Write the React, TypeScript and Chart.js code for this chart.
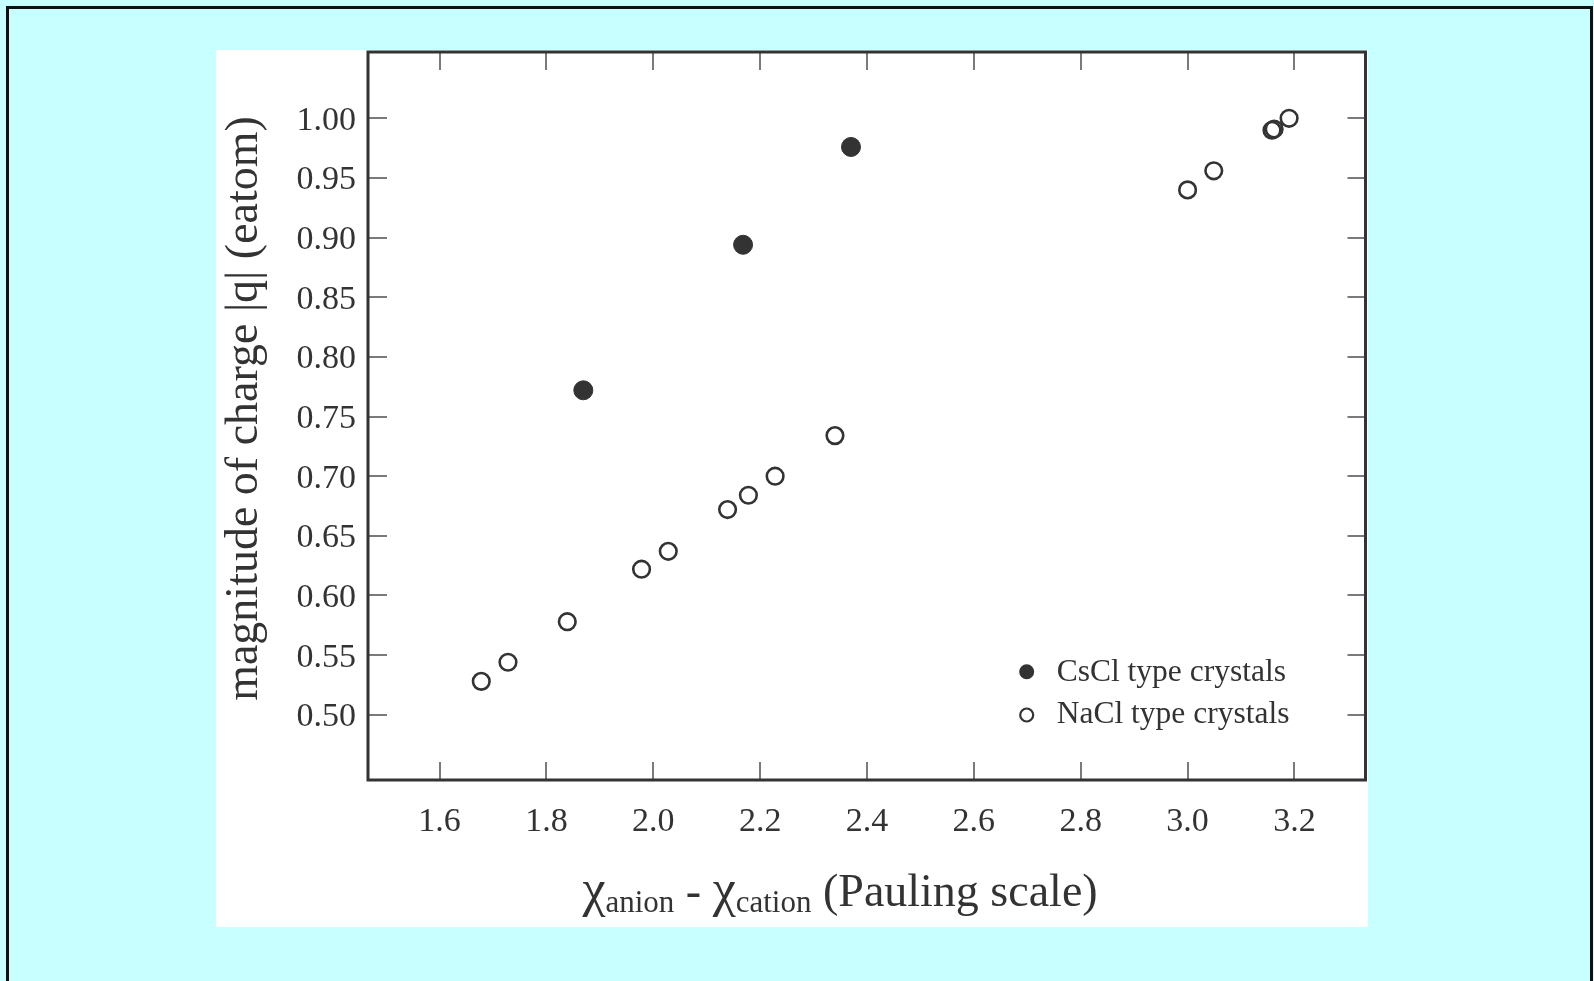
import { useEffect, useRef } from "react";
import { Chart, registerables } from "chart.js";

Chart.register(...registerables);

// Electronegativity difference (Pauling) and magnitude of atomic charge
const cesiumChlorideX = [1.869, 2.168, 2.37];
const cesiumChlorideY = [0.772, 0.894, 0.976];
const sodiumChlorideX = [1.678, 1.728, 1.839, 1.978, 2.028, 2.139, 2.178, 2.228, 2.34, 3.0, 3.049, 3.158, 3.162, 3.19];
const sodiumChlorideY = [0.528, 0.544, 0.578, 0.622, 0.637, 0.672, 0.684, 0.7, 0.734, 0.94, 0.956, 0.99, 0.991, 1.0];

const seriesLabels = ["CsCl type crystals", "NaCl type crystals"];
const xTicks = [1.6, 1.8, 2.0, 2.2, 2.4, 2.6, 2.8, 3.0, 3.2];
const yTicks = [0.5, 0.55, 0.6, 0.65, 0.7, 0.75, 0.8, 0.85, 0.9, 0.95, 1.0];
const yTitle = "magnitude of charge |q| (eatom)";
const xTitleParts: { text: string; sub: boolean }[] = [
  { text: "\u03c7", sub: false },
  { text: "anion", sub: true },
  { text: " - ", sub: false },
  { text: "\u03c7", sub: false },
  { text: "cation", sub: true },
  { text: " (Pauling scale)", sub: false },
];

const SERIF = '"Liberation Serif", "Times New Roman", serif';
const INK = "#333333";

const framePlugin = {
  id: "frame",
  afterDraw(chart: any) {
    const { ctx, chartArea } = chart;
    const { left, top, right, bottom } = chartArea;
    const xs = chart.scales.x;
    const ys = chart.scales.y;
    ctx.save();

    // inward tick marks on all four sides
    ctx.strokeStyle = "#7a7a7a";
    ctx.lineWidth = 2;
    ctx.beginPath();
    for (const v of xTicks) {
      const px = Math.round(xs.getPixelForValue(v));
      ctx.moveTo(px, bottom);
      ctx.lineTo(px, bottom - 18);
      ctx.moveTo(px, top);
      ctx.lineTo(px, top + 18);
    }
    for (const v of yTicks) {
      const py = Math.round(ys.getPixelForValue(v));
      ctx.moveTo(left, py);
      ctx.lineTo(left + 19, py);
      ctx.moveTo(right, py);
      ctx.lineTo(right - 18, py);
    }
    ctx.stroke();

    // plot box
    ctx.strokeStyle = INK;
    ctx.lineWidth = 3;
    ctx.strokeRect(left, top, right - left, bottom - top);

    // tick labels
    ctx.fillStyle = INK;
    ctx.font = `34px ${SERIF}`;
    ctx.textBaseline = "alphabetic";
    ctx.textAlign = "center";
    for (const v of xTicks) {
      ctx.fillText(v.toFixed(1), xs.getPixelForValue(v), bottom + 51);
    }
    ctx.textAlign = "right";
    for (const v of yTicks) {
      ctx.fillText(v.toFixed(2), left - 12, ys.getPixelForValue(v) + 11.5);
    }

    // y-axis title
    ctx.save();
    ctx.translate(left - 111, top + 356.5);
    ctx.rotate(-Math.PI / 2);
    ctx.textAlign = "center";
    ctx.font = `46px ${SERIF}`;
    ctx.fillText(yTitle, 0, 0);
    ctx.restore();

    // x-axis title with subscripts
    const mainFont = `46px ${SERIF}`;
    const greekFont = `52px ${SERIF}`;
    const subFont = `31px ${SERIF}`;
    const fontFor = (p: { text: string; sub: boolean }) =>
      p.sub ? subFont : p.text === "\u03c7" ? greekFont : mainFont;
    ctx.textAlign = "left";
    let total = 0;
    const widths = xTitleParts.map((p) => {
      ctx.font = fontFor(p);
      const w = ctx.measureText(p.text).width;
      total += w;
      return w;
    });
    let cx = left + 472 - total / 2;
    const base = bottom + 126;
    xTitleParts.forEach((p, i) => {
      ctx.font = fontFor(p);
      ctx.fillText(p.text, cx, p.sub ? base + 6 : base);
      cx += widths[i];
    });

    // legend inside the plot
    const ds = chart.data.datasets;
    const lx = left + 658.7;
    ctx.fillStyle = INK;
    ctx.beginPath();
    ctx.arc(lx, bottom - 108.3, 7.5, 0, Math.PI * 2);
    ctx.fill();
    ctx.strokeStyle = INK;
    ctx.lineWidth = 2.2;
    ctx.beginPath();
    ctx.arc(lx, bottom - 65, 6.5, 0, Math.PI * 2);
    ctx.stroke();
    ctx.font = `31.5px ${SERIF}`;
    ctx.fillText(ds[0].label, left + 688.7, bottom - 99.3);
    ctx.fillText(ds[1].label, left + 688.7, bottom - 56.7);

    ctx.restore();
  },
};

export default function App() {
  const canvasRef = useRef<HTMLCanvasElement | null>(null);

  useEffect(() => {
    document.body.style.margin = "0";
    const canvas = canvasRef.current;
    if (!canvas) return;
    const chart = new Chart(canvas, {
      type: "scatter",
      data: {
        datasets: [
          {
            label: seriesLabels[0],
            data: cesiumChlorideX.map((x, i) => ({ x, y: cesiumChlorideY[i] })),
            pointRadius: 9.5,
            pointBackgroundColor: INK,
            pointBorderColor: INK,
            pointBorderWidth: 1,
          },
          {
            label: seriesLabels[1],
            data: sodiumChlorideX.map((x, i) => ({ x, y: sodiumChlorideY[i] })),
            pointRadius: 8.3,
            pointBackgroundColor: "rgba(0,0,0,0)",
            pointBorderColor: INK,
            pointBorderWidth: 2.6,
          },
        ],
      },
      options: {
        responsive: false,
        animation: false,
        devicePixelRatio: 1,
        layout: { autoPadding: false, padding: { left: 152, top: 2, right: 2.5, bottom: 147 } },
        scales: {
          x: { type: "linear", min: 1.466, max: 3.333, display: false },
          y: { type: "linear", min: 0.4453, max: 1.0556, display: false },
        },
        plugins: {
          legend: { display: false },
          tooltip: { enabled: false },
        },
      },
      plugins: [framePlugin],
    });
    return () => chart.destroy();
  }, []);

  return (
    <div
      style={{
        position: "relative",
        width: 1594,
        height: 981,
        overflow: "hidden",
        background: "#c8ffff",
      }}
    >
      <div
        style={{
          position: "absolute",
          left: 6,
          top: 6,
          width: 1587,
          height: 1000,
          boxSizing: "border-box",
          border: "3px solid #111",
        }}
      />
      <canvas
        ref={canvasRef}
        width={1152}
        height={877}
        style={{ position: "absolute", left: 216, top: 50, background: "#ffffff" }}
      />
    </div>
  );
}
